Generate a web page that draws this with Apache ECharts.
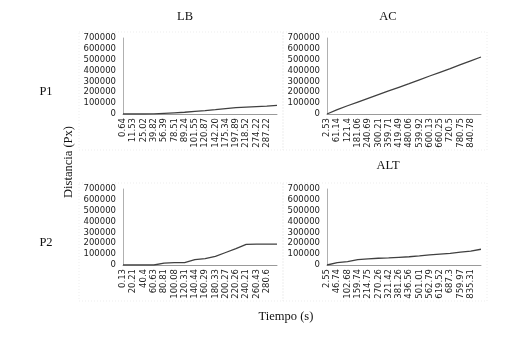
<!DOCTYPE html>
<html>
<head>
<meta charset="utf-8">
<script src="https://cdn.jsdelivr.net/npm/echarts@6/dist/echarts.min.js"></script>
<style>
html, body { margin: 0; padding: 0; background: #fff; }
#chart { width: 532px; height: 340px; }
</style>
</head>
<body>
<div id="chart"></div>
<script>
// tiempos (etiquetas del eje x); el último punto no lleva etiqueta
var tLbP1 = ['0.64', '11.53', '25.02', '39.82', '56.39', '78.51', '89.24', '101.55', '120.87', '142.20', '175.34', '197.89', '218.52', '274.22', '287.22', ''];
var tAcP1 = ['2.53', '61.14', '121.4', '181.06', '240.69', '300.21', '359.71', '419.49', '480.06', '539.92', '600.13', '660.25', '720.5', '780.75', '840.78', ''];
var tLbP2 = ['0.13', '20.21', '40.4', '60.63', '80.81', '100.08', '120.31', '140.44', '160.29', '180.33', '200.27', '220.26', '240.21', '260.43', '280.6', ''];
var tAltP2 = ['2.55', '46.74', '102.68', '159.74', '214.75', '270.26', '321.42', '381.26', '436.56', '501.01', '562.79', '619.52', '687.3', '759.97', '835.31', ''];

// distancia (Px)
var dLbP1 = [0, 0, 0, 1000, 6000, 11000, 16000, 25000, 32000, 40000, 50000, 58000, 63000, 68000, 73000, 79000];
var dAcP1 = [0, 40000, 76000, 110000, 144000, 178000, 212000, 246000, 280000, 315000, 350000, 384000, 418000, 454000, 490000, 525000];
var dLbP2 = [0, 0, 0, 0, 18000, 21000, 22000, 50000, 58000, 80000, 115000, 150000, 190000, 192000, 192000, 192000];
var dAltP2 = [0, 22000, 32000, 50000, 57000, 62000, 66000, 71000, 76000, 84000, 93000, 101000, 108000, 118000, 128000, 145000];

var yMax = 700000;
var yStep = 100000;

var panels = [
    {title: 'LB', t: tLbP1, d: dLbP1, left: 123, top: 38},
    {title: 'AC', t: tAcP1, d: dAcP1, left: 327, top: 38},
    {title: '', t: tLbP2, d: dLbP2, left: 123, top: 189},
    {title: 'ALT', t: tAltP2, d: dAltP2, left: 327, top: 189}
];

var myChart = echarts.init(document.getElementById('chart'));

var serif = 'Liberation Serif';
var sans = 'DejaVu Sans';

var grids = [], xAxes = [], yAxes = [], series = [], graphics = [];
panels.forEach(function (p, i) {
    grids.push({left: p.left, top: p.top, width: 154, height: 76, containLabel: false});
    xAxes.push({
        type: 'category',
        gridIndex: i,
        data: p.t,
        boundaryGap: false,
        axisLine: {lineStyle: {color: '#9a9a9a', width: 1}},
        axisTick: {show: false},
        axisLabel: {rotate: 90, interval: 0, margin: 4, fontSize: 8.5, fontFamily: sans, color: '#222'},
        splitLine: {show: false}
    });
    yAxes.push({
        type: 'value',
        gridIndex: i,
        min: 0,
        max: yMax,
        interval: yStep,
        axisLine: {show: true, lineStyle: {color: '#b0b0b0', width: 1}},
        axisTick: {show: false},
        axisLabel: {
            margin: 7, fontSize: 8.5, fontFamily: sans, color: '#222',
            formatter: function (v) { return String(v); }
        },
        splitLine: {show: false}
    });
    series.push({
        type: 'line',
        xAxisIndex: i,
        yAxisIndex: i,
        data: p.d,
        symbol: 'none',
        lineStyle: {color: '#404040', width: 1.3},
        silent: true
    });
    // borde tenue del área del gráfico
    graphics.push({
        type: 'rect',
        shape: {x: p.left - 44, y: p.top - 6, width: 204, height: 118},
        style: {fill: 'none', stroke: '#ededed', lineWidth: 1, lineDash: [1, 2]},
        silent: true
    });
});

var txt = function (x, y, s, size, rot) {
    return {
        type: 'text', x: x, y: y, rotation: rot || 0,
        style: {text: s, font: size + 'px "' + serif + '"', fill: '#111', align: 'center', verticalAlign: 'middle'},
        silent: true
    };
};
graphics.push(txt(185, 17, 'LB', 12.5));
graphics.push(txt(388, 17, 'AC', 12.5));
graphics.push(txt(388, 166, 'ALT', 12.5));
graphics.push(txt(46, 92, 'P1', 12.5));
graphics.push(txt(46, 243, 'P2', 12.5));
graphics.push(txt(69, 162, 'Distancia (Px)', 12.5, Math.PI / 2));
graphics.push(txt(286, 317, 'Tiempo (s)', 12.5));

var option = {
    animation: false,
    backgroundColor: '#fff',
    grid: grids,
    xAxis: xAxes,
    yAxis: yAxes,
    series: series,
    graphic: graphics
};
myChart.setOption(option);
</script>
</body>
</html>
